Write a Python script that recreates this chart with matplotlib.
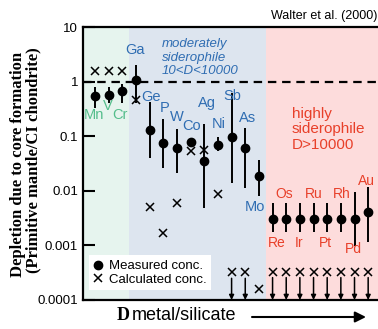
import matplotlib
matplotlib.use("Agg")
import matplotlib.pyplot as plt
import numpy as np
from matplotlib.lines import Line2D
from matplotlib.patches import FancyArrowPatch

# ------------------------------------------------------------------
# Data
# ------------------------------------------------------------------
elements = ["Mn", "V", "Cr", "Ga", "Ge", "P", "W", "Co", "Ag", "Ni", "Sb",
            "As", "Mo", "Re", "Os", "Ir", "Ru", "Pt", "Rh", "Pd", "Au"]
measured = [0.54, 0.57, 0.68, 1.06, 0.129, 0.074, 0.061, 0.078, 0.035, 0.070,
            0.096, 0.062, 0.0186, 0.0031, 0.0031, 0.0031, 0.0031, 0.0031,
            0.0031, 0.0031, 0.0041]
err_low = [0.335, 0.40, 0.41, 0.41, 0.040, 0.0264, 0.0214, 0.064, 0.0049,
           0.053, 0.0141, 0.0114, 0.0080, 0.00174, 0.00174, 0.00174, 0.00174,
           0.00174, 0.00174, 0.00096, 0.00114]
err_high = [0.81, 0.78, 0.92, 2.0, 0.42, 0.208, 0.136, 0.094, 0.164, 0.096,
            0.62, 0.143, 0.036, 0.0059, 0.0059, 0.0059, 0.0059, 0.0059,
            0.0059, 0.0094, 0.0115]
calculated = [1.54, 1.54, 1.54, 0.47, 0.0050, 0.00167, 0.0059, 0.053, 0.057,
              0.0086, 0.00032, 0.00032, 0.00016, 0.00033, 0.00033, 0.00033,
              0.00033, 0.00033, 0.00033, 0.00033, 0.00033]
upper_limit = [False] * 10 + [True, True, False] + [True] * 8

# label anchor (x index, y value) for every element
label_x = [-0.05, 0.95, 1.83, 2.93, 4.1, 5.12, 6.0, 7.08, 8.18, 9.08, 10.08,
           11.2, 11.7, 13.3, 13.87, 14.93, 16.0, 16.9, 18.05, 18.9, 19.9]
label_y = [0.245, 0.36, 0.245, 3.85, 0.53, 0.335, 0.229, 0.152, 0.413,
           0.164, 0.54, 0.22, 0.0051, 0.0011, 0.0089, 0.0011, 0.0089,
           0.0011, 0.0089, 0.00085, 0.0149]

GREEN_BG, BLUE_BG, RED_BG = "#e6f4ee", "#dde5ef", "#fddcdc"
GREEN, BLUE, RED = "#55be8c", "#2f6db2", "#e8402a"
SANS = "Liberation Sans"
SERIF = "Liberation Serif"

plt.rcParams["font.family"] = SANS

fig = plt.figure(figsize=(3.78, 3.29), dpi=100)
ax = fig.add_axes([83 / 378, 1 - 300 / 329, 1 - 83 / 378, 273 / 329])

x = np.arange(len(elements))
xmin, xmax = -0.88, 20.72

# background fields
ax.axvspan(xmin, 2.5, color=GREEN_BG, lw=0, zorder=0)
ax.axvspan(2.5, 12.5, color=BLUE_BG, lw=0, zorder=0)
ax.axvspan(12.5, xmax, color=RED_BG, lw=0, zorder=0)

ax.axhline(1, color="black", lw=1.6, dashes=(3.8, 2.6), zorder=2)

meas = np.array(measured)
yerr = [meas - np.array(err_low), np.array(err_high) - meas]
ax.errorbar(x, meas, yerr=yerr, fmt="o", color="black", ms=6, elinewidth=1.4,
            capsize=0, zorder=4)
ax.plot(x, calculated, "x", color="black", ms=5.5, mew=1.1, zorder=4)

for xi, c, flag in zip(x, calculated, upper_limit):
    if flag:
        ax.annotate("", xy=(xi, 1e-4), xytext=(xi, c * 0.78),
                    arrowprops=dict(arrowstyle="-|>", color="black", lw=1.1,
                                    mutation_scale=7, shrinkA=0, shrinkB=0),
                    zorder=3)

for i, name in enumerate(elements):
    if i < 3:
        col, fs = GREEN, 10.5
    elif i < 13:
        col, fs = BLUE, 10.5
    else:
        col, fs = RED, 10
    ax.text(label_x[i], label_y[i], name, color=col, fontsize=fs,
            ha="center", va="center", zorder=5)

# field descriptions
ax.text(4.9, 2.75, "moderately\nsiderophile\n10<D<10000", color=BLUE,
        style="italic", fontsize=9.5, ha="left", va="center", linespacing=1.15)
ax.text(14.4, 0.133, "highly\nsiderophile\nD>10000", color=RED,
        fontsize=11, ha="left", va="center", linespacing=1.15)

ax.set_yscale("log")
ax.set_ylim(1e-4, 10)
ax.set_xlim(xmin, xmax)
ax.set_xticks([])
ax.set_yticks([1e-4, 1e-3, 1e-2, 1e-1, 1, 10])
ax.set_yticklabels(["0.0001", "0.001", "0.01", "0.1", "1", "10"])
ax.minorticks_off()
ax.tick_params(axis="y", direction="in", length=8.5, width=1.5,
               labelsize=9.5, pad=3.5)
for side in ["left", "bottom", "top"]:
    ax.spines[side].set_linewidth(1.6)
ax.spines["right"].set_visible(False)

handles = [Line2D([], [], marker="o", ls="", color="black", ms=6),
           Line2D([], [], marker="x", ls="", color="black", ms=6, mew=1.1)]
leg = ax.legend(handles, ["Measured conc.", "Calculated conc."], fontsize=9.5,
                loc="lower left", bbox_to_anchor=(0.02, 0.035),
                handlelength=0.7, handletextpad=0.45, borderpad=0.35,
                labelspacing=0.1, borderaxespad=0, fancybox=False)
leg.get_frame().set_facecolor("white")
leg.get_frame().set_edgecolor("none")
leg.get_frame().set_alpha(1)

# y label (two lines, bold serif)
fig.text(18 / 378, 1 - 164 / 329, "Depletion due to core formation",
         rotation=90, fontfamily=SERIF, fontweight="bold", fontsize=12,
         ha="center", va="center")
fig.text(33 / 378, 1 - 160 / 329, "(Primitive mantle/CI chondrite)",
         rotation=90, fontfamily=SERIF, fontweight="bold", fontsize=12,
         ha="center", va="center")

# x label with arrow
fig.text(123 / 378, 1 - 316 / 329, "D", fontfamily=SERIF, fontweight="bold",
         fontsize=13, ha="center", va="center")
fig.text(132 / 378, 1 - 315 / 329, "metal/silicate", fontsize=13,
         ha="left", va="center")
fig.add_artist(FancyArrowPatch(
    (252 / 378, 1 - 317 / 329), (366 / 378, 1 - 317 / 329),
    transform=fig.transFigure, arrowstyle="-|>", mutation_scale=16,
    color="black", lw=1.5, shrinkA=0, shrinkB=0))

fig.text(377 / 378, 1 - 16 / 329, "Walter et al. (2000)", fontsize=9,
         ha="right", va="center")

fig.savefig("out.png", dpi=100)
